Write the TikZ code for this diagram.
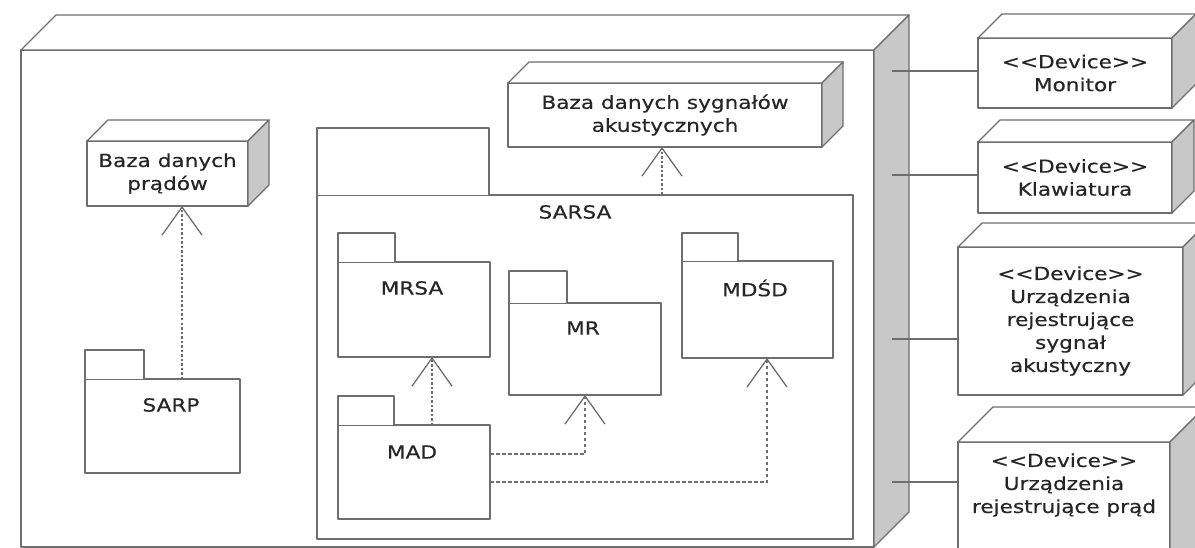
\documentclass[tikz,border=0pt]{standalone}
\usepackage{fontspec}
\setmainfont{DejaVu Sans}[FakeStretch=1.2, FakeBold=0.4]
\usetikzlibrary{arrows.meta,calc}

\definecolor{edge}{HTML}{6E6E6E}
\definecolor{sideshade}{HTML}{C8C8C8}
\definecolor{ink}{HTML}{262626}

% top and right faces of a 3D node box: #1 = front-face node, #2 = depth
\newcommand\cubefaces[2]{%
  \draw[face] (#1.north west) -- ++(#2,-#2) -- ($(#1.north east)+(#2,-#2)$) -- (#1.north east) -- cycle;
  \draw[face, fill=sideshade] (#1.north east) -- ++(#2,-#2) -- ($(#1.south east)+(#2,-#2)$) -- (#1.south east) -- cycle;}
% folder tab of a package: #1 = body node, #2 = tab width, #3 = tab height
\newcommand\pkgtab[3]{%
  \draw[face] (#1.north west) -- ++(0,-#3) -- ++(#2,0) -- ++(0,#3);}

\begin{document}
\begin{tikzpicture}[x=1pt, y=-1pt,
  face/.style={draw=edge, line width=1.3pt, fill=white, line join=round},
  frontbox/.style={face, inner sep=0pt, outer sep=0pt, anchor=north west, align=center,
    text=ink, font=\fontsize{18}{23}\selectfont},
  pkgbody/.style={face, inner sep=0pt, outer sep=0pt, anchor=north west},
  caption/.style={text=ink, font=\fontsize{18}{23}\selectfont, inner sep=0pt, align=center},
  link/.style={draw=edge, line width=1.3pt},
  dep/.style={draw=edge, line width=1.3pt, dash pattern=on 2.5pt off 2pt,
    -{Straight Barb[length=28pt, width=40pt]}},
  deproute/.style={draw=edge, line width=1.3pt, dash pattern=on 3.5pt off 2.5pt,
    -{Straight Barb[length=28pt, width=40pt]}}]

\useasboundingbox (0,0) rectangle (1195,548);

% execution node
\node[frontbox, minimum width=853pt, minimum height=497pt] (host) at (21,50) {};
\cubefaces{host}{35}
\coordinate (side) at (892,0);

% databases
\node[frontbox, minimum width=161pt, minimum height=65pt] (bazap) at (87,141) {Baza danych\\prądów};
\cubefaces{bazap}{21}
\node[frontbox, minimum width=314pt, minimum height=64pt] (bazas) at (508,83) {Baza danych sygnałów\\akustycznych};
\cubefaces{bazas}{21}

% SARP package
\node[pkgbody, minimum width=155pt, minimum height=94pt] (sarp) at (85,379) {};
\pkgtab{sarp}{59}{29}
\node[caption] (sarplbl) at (171,405) {SARP};

% SARSA package and its modules
\node[pkgbody, minimum width=536pt, minimum height=344pt] (sarsa) at (317,195) {};
\pkgtab{sarsa}{172}{67}
\node[caption] (sarsalbl) at (575,212) {SARSA};

\node[pkgbody, minimum width=152pt, minimum height=95pt] (mrsa) at (338,262) {};
\pkgtab{mrsa}{57}{29}
\node[caption] (mrsalbl) at (412,288) {MRSA};

\node[pkgbody, minimum width=152pt, minimum height=94pt] (mad) at (338,425) {};
\pkgtab{mad}{56}{29}
\node[caption] (madlbl) at (412,452) {MAD};

\node[pkgbody, minimum width=152pt, minimum height=92pt] (mr) at (509,303) {};
\pkgtab{mr}{58}{32}
\node[caption] (mrlbl) at (583,328) {MR};

\node[pkgbody, minimum width=151pt, minimum height=97pt] (mdsd) at (682,261) {};
\pkgtab{mdsd}{56}{28}
\node[caption] (mdsdlbl) at (755,288) {MDŚD};

% devices
\node[frontbox, minimum width=194pt, minimum height=70pt] (monitor) at (978,38) {<{}<Device>{}>\\Monitor};
\cubefaces{monitor}{24}
\node[frontbox, minimum width=194pt, minimum height=71pt] (klaw) at (978,142) {<{}<Device>{}>\\Klawiatura};
\cubefaces{klaw}{22}
\node[frontbox, minimum width=225pt, minimum height=148pt] (sygnal) at (958,247) {<{}<Device>{}>\\Urządzenia\\rejestrujące\\sygnał\\akustyczny};
\cubefaces{sygnal}{24}
\node[frontbox, minimum width=212pt, minimum height=140pt] (prad) at (958,442) {};
\cubefaces{prad}{35}
\node[caption] (pradlbl) at (1064,485) {<{}<Device>{}>\\Urządzenia\\rejestrujące prąd};

% device links
\draw[link] (side |- 0,71) -- (monitor.west |- 0,71);
\draw[link] (side |- 0,175) -- (klaw.west |- 0,175);
\draw[link] (side |- 0,339) -- (sygnal.west |- 0,339);
\draw[link] (side |- 0,482) -- (prad.west |- 0,482);

% dependencies
\draw[dep] (sarp.north -| 182,0) -- (bazap.south -| 182,0);
\draw[dep] (sarsa.north -| 662,0) -- (bazas.south -| 662,0);
\draw[dep] (mad.north -| 432,0) -- (mrsa.south -| 432,0);
\draw[deproute] (mad.east |- 0,454) -| (mr.south);
\draw[deproute] (mad.east |- 0,482) -| (mdsd.south -| 767,0);

\end{tikzpicture}
\end{document}
